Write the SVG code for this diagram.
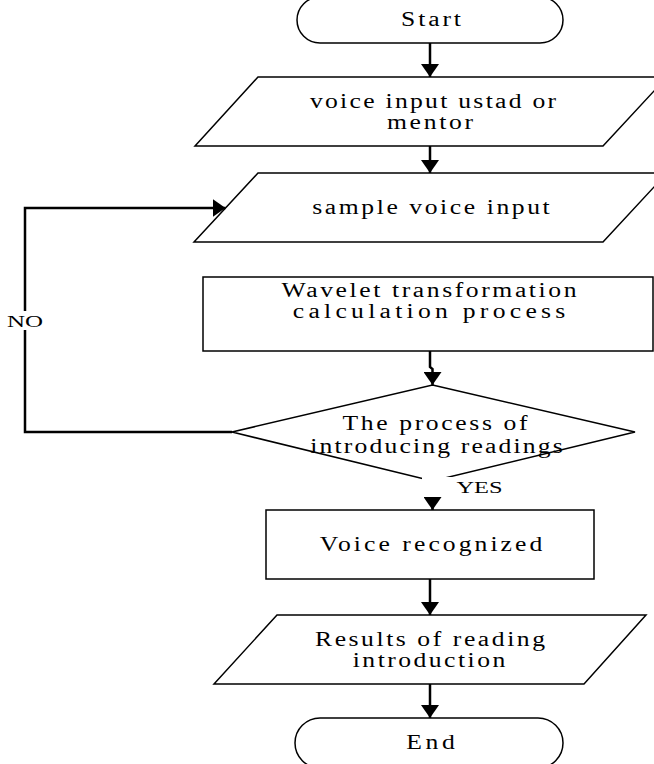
<svg xmlns="http://www.w3.org/2000/svg" width="654" height="764" viewBox="0 0 654 764">
<defs>
<marker id="ah" viewBox="0 0 13 18" refX="13" refY="9" markerWidth="13" markerHeight="18" orient="auto" markerUnits="userSpaceOnUse">
<path d="M0,0 L13,9 L0,18 Z" fill="#000"/>
</marker>
<style>
.shape{fill:#fff;stroke:#000;stroke-width:1.5}
.conn{fill:none;stroke:#000;stroke-width:2.5;marker-end:url(#ah)}
.t{font-family:"Liberation Serif","Times New Roman",serif;font-size:20.5px;text-anchor:middle;fill:#000}
.lbl{font-family:"Liberation Serif","Times New Roman",serif;font-size:16px;text-anchor:middle;fill:#000}
</style>
</defs>
<rect width="654" height="764" fill="#fff"/>

<g id="start">
<rect class="shape" x="297" y="-3" width="266" height="46" rx="23" ry="23"/>
<text class="t" transform="translate(431,26) scale(1.25,1)" textLength="48" lengthAdjust="spacing">Start</text>
</g>

<g id="input1">
<polygon class="shape" points="258,77 667,77 603,146 195,146"/>
<text class="t" transform="translate(433,107.5) scale(1.25,1)" textLength="197" lengthAdjust="spacing">voice input ustad or</text>
<text class="t" transform="translate(430,128.5) scale(1.25,1)" textLength="69" lengthAdjust="spacing">mentor</text>
</g>

<g id="input2">
<polygon class="shape" points="258,173 667,173 603,242 194,242"/>
<text class="t" transform="translate(431,214) scale(1.25,1)" textLength="190" lengthAdjust="spacing">sample voice input</text>
</g>

<g id="wavelet">
<rect class="shape" x="203" y="277" width="450" height="74"/>
<text class="t" transform="translate(429,296.5) scale(1.25,1)" textLength="236" lengthAdjust="spacing">Wavelet transformation</text>
<text class="t" transform="translate(429,317.5) scale(1.25,1)" textLength="218" lengthAdjust="spacing">calculation process</text>
</g>

<g id="decision">
<polygon class="shape" points="432.5,385 635,432 432.5,481 232,432"/>
</g>

<g id="recognized">
<rect class="shape" x="266" y="510" width="328" height="69"/>
<text class="t" transform="translate(431,551) scale(1.25,1)" textLength="178" lengthAdjust="spacing">Voice recognized</text>
</g>

<g id="results">
<polygon class="shape" points="277,615 646,615 584,684 214,684"/>
<text class="t" transform="translate(430,645.5) scale(1.25,1)" textLength="184" lengthAdjust="spacing">Results of reading</text>
<text class="t" transform="translate(429,667) scale(1.25,1)" textLength="122" lengthAdjust="spacing">introduction</text>
</g>

<g id="end">
<rect class="shape" x="295" y="718" width="268" height="50" rx="25" ry="25"/>
<text class="t" transform="translate(430.5,749) scale(1.25,1)" textLength="39" lengthAdjust="spacing">End</text>
</g>

<g id="connectors">
<path class="conn" d="M430,43 V77"/>
<path class="conn" d="M430,146 V173"/>
<path class="conn" d="M232,432 H25 V208 H225.5"/>
<path class="conn" d="M430,351 V367 L432.5,369 V385"/>
<path class="conn" d="M432.5,481 V510"/>
<path class="conn" d="M430,579 V615"/>
<path class="conn" d="M430,684 V718"/>
</g>

<g id="decision-text">
<text class="t" transform="translate(435,430) scale(1.25,1)" textLength="148" lengthAdjust="spacing">The process of</text>
<text class="t" transform="translate(436.5,453) scale(1.25,1)" textLength="202" lengthAdjust="spacing">introducing readings</text>
</g>

<g id="label-no">
<rect x="5" y="311" width="40" height="19" fill="#fff"/>
<text class="lbl" x="25" y="326.5" textLength="36" lengthAdjust="spacingAndGlyphs">NO</text>
</g>

<g id="label-yes">
<rect x="422" y="477" width="84" height="20" fill="#fff"/>
<text class="lbl" x="479.5" y="492.5" textLength="46" lengthAdjust="spacingAndGlyphs">YES</text>
</g>
</svg>
